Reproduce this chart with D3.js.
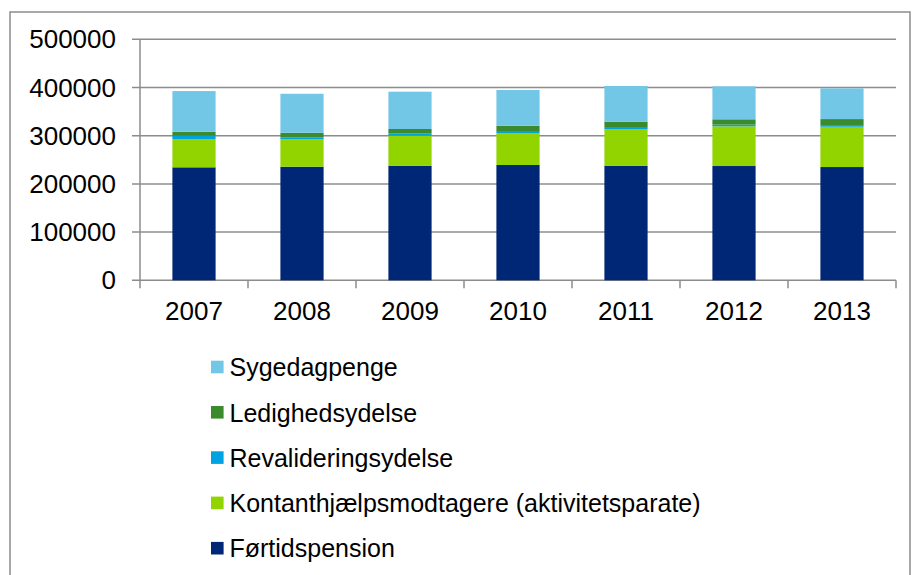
<!DOCTYPE html>
<html>
<head>
<meta charset="utf-8">
<script src="https://cdn.jsdelivr.net/npm/d3@7"></script>
<style>
  body { margin: 0; background: #fff; }
  text { font-family: "Liberation Sans", Arial, sans-serif; fill: #000; }
</style>
</head>
<body>
<svg width="913" height="575"></svg>
<script>
// years on the x axis
const years = ["2007", "2008", "2009", "2010", "2011", "2012", "2013"];

// series, bottom of the stack first
const seriesNames = ["Førtidspension", "Kontanthjælpsmodtagere (aktivitetsparate)", "Revalideringsydelse", "Ledighedsydelse", "Sygedagpenge"];
const seriesColors = ["#002776", "#92d400", "#00a3e0", "#3c8a2e", "#72c7e7"];

// values
const fortidspension = [234400, 235700, 237800, 239200, 237800, 237100, 235000];
const kontanthjaelp  = [58700, 56800, 62200, 66400, 76100, 82400, 83600];
const revalidering   = [6800, 4100, 5000, 4100, 4100, 3500, 3500];
const ledighed       = [8300, 9500, 8900, 11000, 11000, 11000, 12400];
const sygedagpenge   = [84400, 80900, 77400, 74100, 74100, 68500, 63700];

const yTicks = [0, 100000, 200000, 300000, 400000, 500000];

const allSeries = [fortidspension, kontanthjaelp, revalidering, ledighed, sygedagpenge];
const rows = years.map((y, i) => {
    const r = { year: y };
    seriesNames.forEach((n, k) => r[n] = allSeries[k][i]);
    return r;
});

var svg = d3.select("svg");

// outer frame (chart area border)
svg.append("rect")
    .attr("x", 10).attr("y", 12)
    .attr("width", 900).attr("height", 600)
    .attr("fill", "none")
    .attr("stroke", "#8c8c8c")
    .attr("stroke-width", 1.5);

var x = d3.scaleBand().domain(years).range([140, 896]).padding(0);
var y = d3.scaleLinear().domain([0, 500000]).range([280.3, 39.3]);

// gridlines
svg.append("g")
    .selectAll("line")
    .data(yTicks)
    .enter().append("line")
        .attr("x1", 132).attr("x2", 896)
        .attr("y1", d => y(d)).attr("y2", d => y(d))
        .style("stroke", "#8c8c8c")
        .style("stroke-width", 1.5);

// y axis line
svg.append("line")
    .attr("x1", 140).attr("x2", 140)
    .attr("y1", y(500000)).attr("y2", y(0))
    .style("stroke", "#8c8c8c").style("stroke-width", 1.5);

// y tick labels
svg.append("g")
    .selectAll("text")
    .data(yTicks)
    .enter().append("text")
        .attr("x", 116)
        .attr("y", d => y(d) + 9)
        .attr("text-anchor", "end")
        .style("font-size", "26px")
        .text(d => d);

// x axis ticks at band edges
var edges = years.map(d => x(d)).concat([x.range()[1]]);
svg.append("g")
    .selectAll("line")
    .data(edges)
    .enter().append("line")
        .attr("x1", d => d).attr("x2", d => d)
        .attr("y1", y(0)).attr("y2", y(0) + 8)
        .style("stroke", "#8c8c8c").style("stroke-width", 1.5);

svg.append("g")
    .selectAll("text")
    .data(years)
    .enter().append("text")
        .attr("x", d => x(d) + x.bandwidth() / 2)
        .attr("y", 320)
        .attr("text-anchor", "middle")
        .style("font-size", "26px")
        .text(d => d);

// stacked bars
var stack = d3.stack().keys(seriesNames)(rows);
var bw = x.bandwidth() * 0.4;

svg.append("g")
    .selectAll("g")
    .data(stack)
    .enter().append("g")
        .attr("fill", (d, i) => seriesColors[i])
    .selectAll("rect")
    .data(d => d)
    .enter().append("rect")
        .attr("x", d => x(d.data.year) + x.bandwidth() * 0.3)
        .attr("width", bw)
        .attr("y", d => y(d[1]))
        .attr("height", d => y(d[0]) - y(d[1]));

// legend, top entry is the top of the stack
var legendOrder = d3.range(seriesNames.length).reverse();
var legend = svg.append("g")
    .selectAll("g")
    .data(legendOrder)
    .enter().append("g")
        .attr("transform", (d, i) => "translate(211," + (360.7 + i * 45.3) + ")");

legend.append("rect")
    .attr("width", 12.6).attr("height", 12.6)
    .attr("fill", d => seriesColors[d]);

legend.append("text")
    .attr("x", 18.5)
    .attr("y", 15.5)
    .style("font-size", "25px")
    .text(d => seriesNames[d]);
</script>
</body>
</html>
